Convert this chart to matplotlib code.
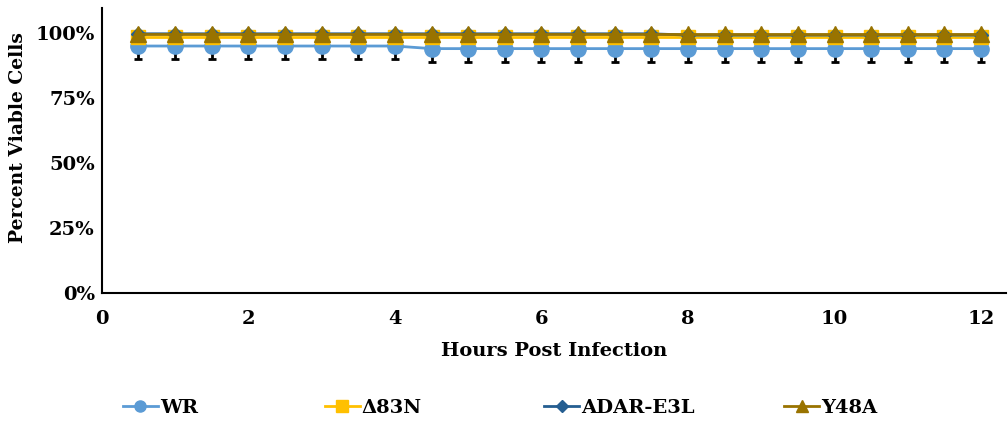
import matplotlib
matplotlib.use("Agg")
import matplotlib.pyplot as plt
from matplotlib.ticker import PercentFormatter
from matplotlib.lines import Line2D

plt.rcParams['font.family'] = ['DejaVu Serif']
plt.rcParams['font.weight'] = 'bold'

hours = [0.5, 1, 1.5, 2, 2.5, 3, 3.5, 4, 4.5, 5, 5.5, 6, 6.5, 7, 7.5, 8,
         8.5, 9, 9.5, 10, 10.5, 11, 11.5, 12]

wr = [95.0] * 8 + [94.0] * 16
wr_err = [5.0] * 24
d83n = [98.4] * 24
adar = [99.7] * 15 + [99.2] * 9
y48a = [99.8] * 24

series = [
    ("WR", wr, "#5B9BD5", "o", 11),
    ("Δ83N", d83n, "#FFC000", "s", 10.5),
    ("ADAR-E3L", adar, "#255E91", "D", 7),
    ("Y48A", y48a, "#997300", "^", 11),
]
legend_x = [0.122, 0.322, 0.540, 0.778]

fig = plt.figure(figsize=(10.08, 4.23), dpi=100)
ax = fig.add_axes([0.101, 0.307, 0.897, 0.674])

ax.errorbar(hours, wr, yerr=wr_err, fmt='none', ecolor='black',
            elinewidth=2, capsize=3, capthick=2, zorder=1)

for name, vals, color, marker, ms in series:
    ax.plot(hours, vals, color=color, marker=marker, markersize=ms,
            linewidth=2, label=name, zorder=3)

ax.set_xlim(0, 12.34)
ax.set_ylim(0, 109.6)
ax.set_xticks(range(0, 13, 2))
ax.set_yticks([0, 25, 50, 75, 100])
ax.yaxis.set_major_formatter(PercentFormatter(decimals=0))
ax.tick_params(axis='y', length=0, labelsize=14, pad=5)
ax.tick_params(axis='x', length=0, labelsize=14, pad=12)
for lbl in ax.get_xticklabels() + ax.get_yticklabels():
    lbl.set_fontweight('bold')

for side in ('top', 'right'):
    ax.spines[side].set_visible(False)
for side in ('left', 'bottom'):
    ax.spines[side].set_linewidth(1.5)
    ax.spines[side].set_color('black')

ax.set_xlabel("Hours Post Infection", fontsize=14, fontweight='bold', labelpad=10)
ax.set_ylabel("Percent Viable Cells", fontsize=13.5, fontweight='bold')
ax.yaxis.set_label_coords(-0.083, 0.547)

# one legend entry per slot along the bottom
for (name, vals, color, marker, ms), x in zip(series, legend_x):
    h = Line2D([], [], color=color, marker=marker,
               markersize=8 if marker != 'D' else 6.5, linewidth=2)
    leg = fig.legend([h], [name], loc='center left', bbox_to_anchor=(x, 0.035),
                     frameon=False, fontsize=14, handlelength=1.8,
                     handletextpad=0.1, borderaxespad=0, borderpad=0)
    for t in leg.get_texts():
        t.set_fontweight('bold')

fig.savefig("out.png", dpi=100)
